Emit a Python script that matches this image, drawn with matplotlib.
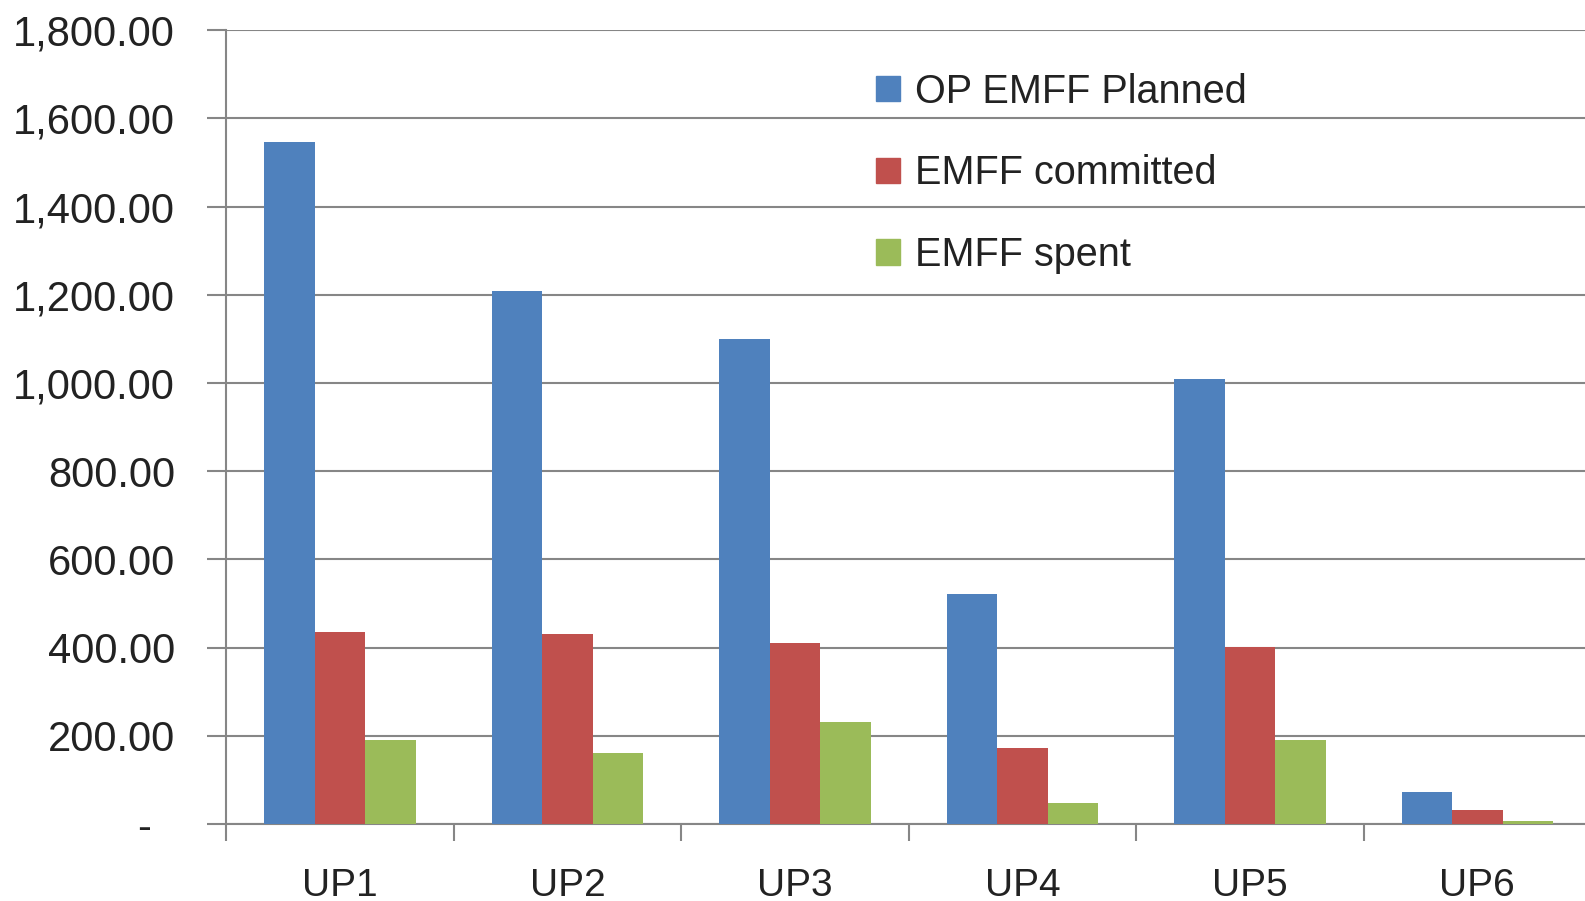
import matplotlib.pyplot as plt
import numpy as np
from matplotlib.patches import Patch

categories = ['UP1', 'UP2', 'UP3', 'UP4', 'UP5', 'UP6']
planned = [1546, 1209, 1099, 522, 1010, 72]
committed = [436, 432, 410, 172, 401, 32]
spent = [191, 161, 231, 47, 191, 7]
series_names = ['OP EMFF Planned', 'EMFF committed', 'EMFF spent']
colors = ['#4F81BD', '#C0504D', '#9BBB59']
yticks = [0, 200, 400, 600, 800, 1000, 1200, 1400, 1600, 1800]

plt.rcParams['font.family'] = ['Liberation Sans', 'DejaVu Sans']

fig = plt.figure(figsize=(15.85, 9.01), dpi=100)
ax = fig.add_axes([226.4 / 1585, (901 - 824) / 901, 1364.6 / 1585, (824 - 30.3) / 901])

x = np.arange(len(categories))
w = 0.222
for i, vals in enumerate([planned, committed, spent]):
    ax.bar(x + (i - 1) * w, vals, w, color=colors[i], zorder=3, linewidth=0)

ax.set_xlim(-0.5, len(categories) - 0.5)
ax.set_ylim(0, 1800)
ax.set_yticks(yticks)
ax.set_yticklabels(['-  '] + [f'{v:,.2f}' for v in yticks[1:]])
ax.yaxis.grid(True, color='#868686', linewidth=1.5, zorder=0)

ax.set_xticks(x)
ax.set_xticklabels(categories)
ax.set_xticks(np.arange(len(categories) + 1) - 0.5, minor=True)
ax.tick_params(axis='x', which='major', length=0, pad=32, labelsize=28)
ax.tick_params(axis='x', which='minor', length=12, width=1.5, color='#868686', direction='out')
ax.tick_params(axis='y', length=14, width=1.5, color='#868686', pad=23, labelsize=30, labelcolor='#222222')
ax.tick_params(axis='x', labelcolor='#222222')

for s in ['top', 'right']:
    ax.spines[s].set_visible(False)
for s in ['left', 'bottom']:
    ax.spines[s].set_color('#868686')
    ax.spines[s].set_linewidth(1.5)

handles = [Patch(color=c) for c in colors]
ax.legend(handles, series_names, loc='upper left', bbox_to_anchor=(860 / 1585, 1 - 57 / 901),
          bbox_transform=fig.transFigure, frameon=False, fontsize=28.5,
          handlelength=0.6, handleheight=0.6, handletextpad=0.4, labelspacing=1.1,
          labelcolor='#222222', borderaxespad=0)

fig.savefig('out.png', dpi=100)
